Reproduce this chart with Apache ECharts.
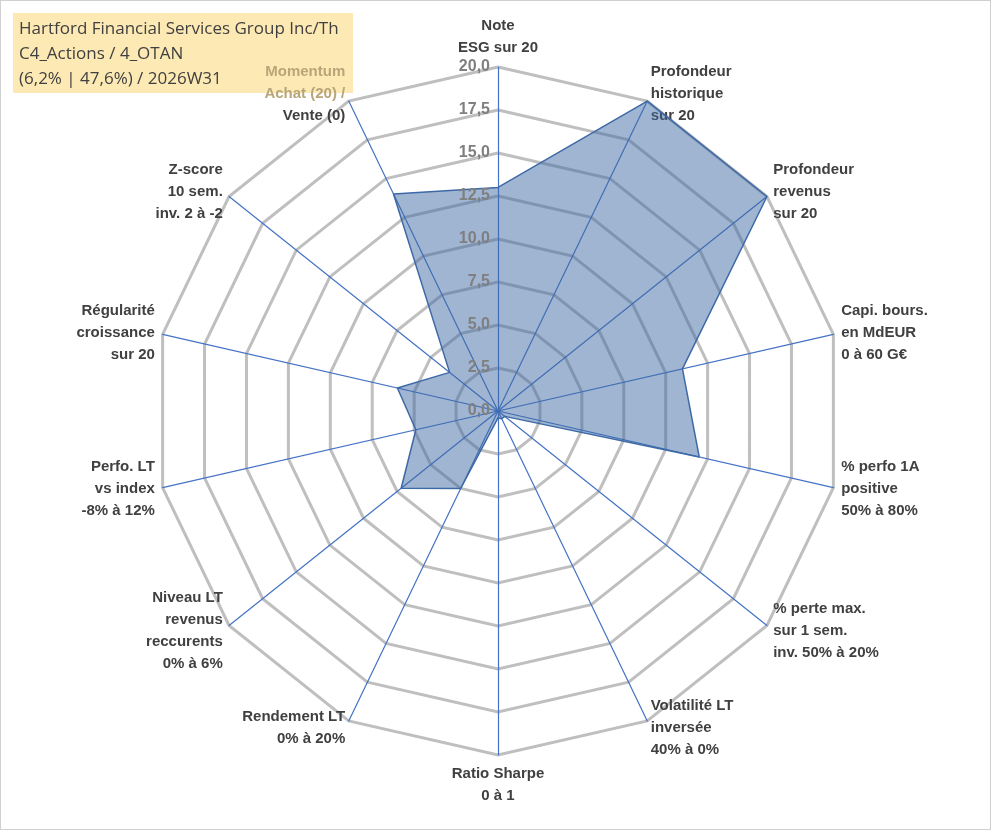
<!DOCTYPE html>
<html>
<head>
<meta charset="utf-8">
<script src="https://cdn.jsdelivr.net/npm/echarts@6/dist/echarts.min.js"></script>
<style>
html,body{margin:0;padding:0;background:#fff;}
#chart{width:989px;height:828px;border:1px solid #d0d0d0;}
</style>
</head>
<body>
<div id="chart"></div>
<script>
// listed clockwise from the top
var axisNames = [
    'Note\nESG sur 20',
    'Profondeur\nhistorique\nsur 20',
    'Profondeur\nrevenus\nsur 20',
    'Capi. bours.\nen MdEUR\n0 à 60 G€',
    '% perfo 1A\npositive\n50% à 80%',
    '% perte max.\nsur 1 sem.\ninv. 50% à 20%',
    'Volatilité LT\ninversée\n40% à 0%',
    'Ratio Sharpe\n0 à 1',
    'Rendement LT\n0% à 20%',
    'Niveau LT\nrevenus\nreccurents\n0% à 6%',
    'Perfo. LT\nvs index\n-8% à 12%',
    'Régularité\ncroissance\nsur 20',
    'Z-score\n10 sem.\ninv. 2 à -2',
    'MOMENTUM'
];
var scores = [13, 20, 20, 11, 12, 0.5, 0.5, 0.4, 5, 7.2, 4.9, 6, 3.6, 14];
var tickMax = 20;
var tickStep = 2.5;

// echarts radar runs counter-clockwise, so flip everything after the first axis
function cw(arr){ return [arr[0]].concat(arr.slice(1).reverse()); }

var chart = echarts.init(document.getElementById('chart'));

var indicator = cw(axisNames).map(function(n){ return {name: n, max: tickMax, min: 0}; });

var option = {
    graphic: [{
        type: 'rect', left: 12, top: 12, shape: {width: 340, height: 80},
        style: {fill: '#fde9b3'}, z: 0
    }, {
        type: 'text', left: 18, top: 16, z: 1,
        style: {
            text: 'Hartford Financial Services Group Inc/Th\nC4_Actions / 4_OTAN\n(6,2% | 47,6%) / 2026W31',
            fill: '#404040', font: '17px "Open Sans", Arial', lineHeight: 25
        }
    }],
    radar: {
        center: [497, 410],
        radius: 344,
        startAngle: 90,
        splitNumber: 8,
        shape: 'polygon',
        indicator: indicator,
        nameGap: 8,
        axisName: {
            color: '#404040',
            fontWeight: 'bold',
            fontSize: 15,
            lineHeight: 22,
            fontFamily: 'Liberation Sans, Arial',
            formatter: function(name){
                if (name === 'MOMENTUM') {
                    return '{m|Momentum}\n{m|Achat (20) /}\n{v|Vente (0)}';
                }
                return name;
            },
            rich: {
                m: {color: '#b8a57a', fontWeight: 'bold', fontSize: 15, lineHeight: 22},
                v: {color: '#404040', fontWeight: 'bold', fontSize: 15, lineHeight: 22}
            }
        },
        splitArea: {show: false},
        splitLine: {lineStyle: {color: '#bfbfbf', width: 3}},
        axisLine: {lineStyle: {color: '#4472c4', width: 1.2}}
    },
    polar: {center: [497, 410], radius: 344},
    angleAxis: {show: false, min: 0, max: 360},
    radiusAxis: {
        min: 0, max: tickMax, interval: tickStep,
        axisLine: {show: false}, axisTick: {show: false}, splitLine: {show: false},
        axisLabel: {
            color: '#7f7f7f', fontSize: 16, fontWeight: 'bold', margin: 8,
            align: 'right', verticalAlign: 'middle',
            formatter: function(v){ return v.toFixed(1).replace('.', ','); }
        },
        z: 10
    },
    series: [{
        type: 'radar',
        symbol: 'none',
        data: [{value: cw(scores)}],
        lineStyle: {color: '#3f6aa8', width: 1.5},
        areaStyle: {color: 'rgba(60,104,164,0.7)'}
    }]
};
chart.setOption(option);
</script>
</body>
</html>
